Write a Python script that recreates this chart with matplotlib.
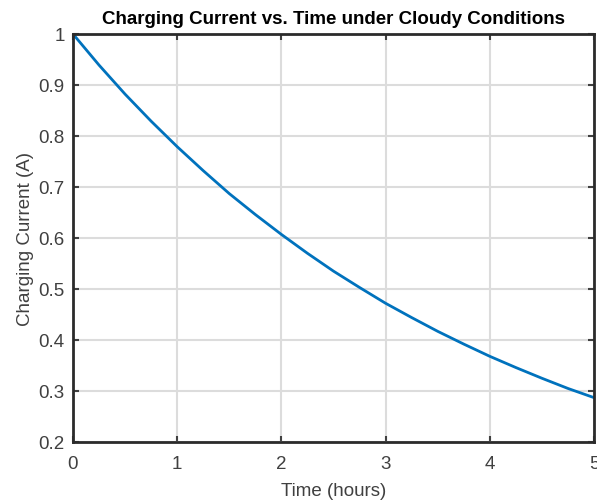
import matplotlib.pyplot as plt

# values
time_h = [0, 0.25, 0.5, 0.75, 1, 1.25, 1.5, 1.75, 2, 2.25, 2.5, 2.75,
          3, 3.25, 3.5, 3.75, 4, 4.25, 4.5, 4.75, 5]
current_a = [1.0, 0.939, 0.882, 0.829, 0.779, 0.732, 0.687, 0.646, 0.607,
             0.570, 0.535, 0.503, 0.472, 0.444, 0.417, 0.392, 0.368,
             0.346, 0.325, 0.305, 0.287]

x_ticks = [0, 1, 2, 3, 4, 5]
y_ticks = [0.2, 0.3, 0.4, 0.5, 0.6, 0.7, 0.8, 0.9, 1]
y_labels = ['0.2', '0.3', '0.4', '0.5', '0.6', '0.7', '0.8', '0.9', '1']

plt.rcParams['font.family'] = ['Liberation Sans', 'DejaVu Sans']

fig = plt.figure(figsize=(5.97, 5.02), dpi=100)
ax = fig.add_axes([73 / 597, 59 / 502, 521 / 597, 408 / 502])

ax.plot(time_h, current_a, color='#0072BD', linewidth=2)

ax.set_xlim(0, 5)
ax.set_ylim(0.2, 1)
ax.set_xticks(x_ticks)
ax.set_yticks(y_ticks)
ax.set_yticklabels(y_labels)
ax.grid(True, color='#dcdcdc', linewidth=1.5)
ax.set_axisbelow(True)

ax.tick_params(direction='in', top=True, right=True, length=4, width=1.5,
               labelsize=13.5, colors='#404040', pad=6)
ax.tick_params(axis='x', pad=9.5)
for s in ax.spines.values():
    s.set_linewidth(2)
    s.set_color('#2b2b2b')

ax.set_xlabel('Time (hours)', fontsize=13.5, color='#404040', labelpad=7)
ax.set_ylabel('Charging Current (A)', fontsize=13.5, color='#404040', labelpad=3)
ax.set_title('Charging Current vs. Time under Cloudy Conditions',
             fontsize=13.5, fontweight='bold', pad=8)

fig.savefig('out.png', dpi=100)
